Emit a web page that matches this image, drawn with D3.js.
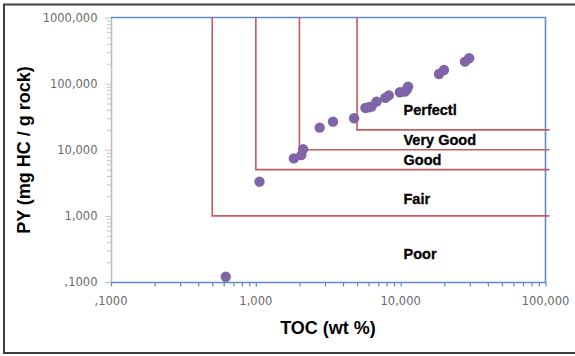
<!DOCTYPE html>
<html>
<head>
<meta charset="utf-8">
<script src="https://cdn.jsdelivr.net/npm/d3@7/dist/d3.min.js"></script>
<style>
  html, body { margin: 0; padding: 0; background: #fff; }
  svg { display: block; }
</style>
</head>
<body>
<svg id="chart" width="575" height="356"></svg>
<script>
// Sample measurements: TOC (wt %) vs. pyrolysis yield PY (mg HC / g rock)
const tocValues = [0.62, 1.06, 1.83, 2.06, 2.12, 2.76, 3.41, 4.77, 5.71, 6.03, 6.29, 6.81, 7.83, 8.28, 9.87, 10.69, 11.03, 11.26, 18.4, 19.9, 27.8, 29.7];
const pyValues  = [0.12, 3.29, 7.4, 8.3, 10.2, 21.6, 26.6, 30.0, 42.9, 44.0, 44.9, 53.4, 60.8, 66.3, 74.1, 75.7, 81.7, 90.1, 140, 161, 215, 242];

// Source-rock quality zones: corner of each boundary (TOC, PY)
const zoneToc = [0.5, 1, 2, 5];
const zonePy  = [1, 5, 10, 20];
const zoneNames = ["Perfectl", "Very Good", "Good", "Fair", "Poor"];
const zoneLabelPy = [40, 14, 7, 1.8, 0.27];

// Axis ticks and their printed labels
const xTicks = [0.1, 1, 10, 100];
const xTickLabels = [",1000", "1,000", "10,000", "100,000"];
const yTicks = [0.1, 1, 10, 100, 1000];
const yTickLabels = [",1000", "1,000", "10,000", "100,000", "1000,000"];

const svg = d3.select("#chart");
const margin = { left: 111, right: 545.5, top: 17.5, bottom: 282 };

const x = d3.scaleLog().domain([0.1, 100]).range([margin.left, margin.right]);
const y = d3.scaleLog().domain([0.1, 1000]).range([margin.bottom, margin.top]);

// Outer frame
svg.append("rect")
  .attr("x", 4).attr("y", 4.5).attr("width", 590).attr("height", 348.5)
  .attr("fill", "none").attr("stroke", "#404040").attr("stroke-width", 2);

const minorTicks = (lo, hi) => {
  const out = [];
  for (let d = lo; d < hi; d *= 10) for (let k = 1; k < 10; k++) out.push(d * k);
  out.push(hi);
  return out;
};

// Y axis (grey) with minor ticks
const yAxis = d3.axisLeft(y).tickValues(minorTicks(0.1, 1000)).tickFormat("").tickSize(5).tickSizeOuter(0);
const gy = svg.append("g").attr("transform", `translate(${margin.left},0)`).call(yAxis);
gy.selectAll("path").attr("stroke", "#bdbdbd").attr("stroke-width", 1.5);
gy.selectAll("line").attr("stroke", "#c4c4c4").attr("stroke-width", 1)
  .attr("x2", d => yTicks.includes(d) ? -6 : -4);

svg.append("g").selectAll("text").data(yTicks).join("text")
  .attr("x", 97.5).attr("y", d => y(d)).attr("dy", "0.36em")
  .attr("text-anchor", "end")
  .attr("font-family", "DejaVu Sans, Verdana, sans-serif").attr("font-size", 11.5)
  .attr("fill", "#6a6a6a")
  .text((d, i) => yTickLabels[i]);

// X axis (blue) with minor ticks
const xAxis = d3.axisBottom(x).tickValues(minorTicks(0.1, 100)).tickFormat("").tickSize(4.5).tickSizeOuter(0);
const gx = svg.append("g").attr("transform", `translate(0,${margin.bottom})`).call(xAxis);
gx.selectAll("path").attr("stroke", "#5b8cc4").attr("stroke-width", 1.6);
gx.selectAll("line").attr("stroke", "#5b8cc4").attr("stroke-width", 1.2);

svg.append("g").selectAll("text").data(xTicks).join("text")
  .attr("x", d => x(d)).attr("y", 301).attr("dy", "0.36em")
  .attr("text-anchor", "middle")
  .attr("font-family", "DejaVu Sans, Verdana, sans-serif").attr("font-size", 11.5)
  .attr("fill", "#6a6a6a")
  .text((d, i) => xTickLabels[i]);

// Top and right border of plot area
svg.append("path")
  .attr("d", `M${margin.left},${y(1000)}H${x(100)}V${margin.bottom}`)
  .attr("fill", "none").attr("stroke", "#5b8cc4").attr("stroke-width", 1.6);

// Zone boundaries: vertical from top, then horizontal to the right edge
const zoneLine = svg.append("g");
zoneToc.forEach((t, i) => {
  zoneLine.append("path")
    .attr("d", `M${x(t)},${y(1000)}V${y(zonePy[i])}H${x(100) + 4}`)
    .attr("fill", "none").attr("stroke", "#c9595a").attr("stroke-width", 1.6);
});

// Zone names
svg.append("g").selectAll("text").data(zoneNames).join("text")
  .attr("x", 403.5).attr("y", (d, i) => y(zoneLabelPy[i])).attr("dy", "0.36em")
  .attr("font-family", "Liberation Sans, Arial, sans-serif").attr("font-weight", "bold")
  .attr("font-size", 14.5).attr("fill", "#000")
  .attr("stroke", "#000").attr("stroke-width", 0.3)
  .text(d => d);

// Sample points
svg.append("g").selectAll("circle").data(tocValues).join("circle")
  .attr("cx", d => x(d)).attr("cy", (d, i) => y(pyValues[i])).attr("r", 5.2)
  .attr("fill", "#8064a8");

// Axis titles
svg.append("text")
  .attr("x", 328).attr("y", 328).attr("dy", "0.36em").attr("text-anchor", "middle")
  .attr("font-family", "Liberation Sans, Arial, sans-serif").attr("font-weight", "bold")
  .attr("font-size", 18).attr("fill", "#000")
  .text("TOC (wt %)");

svg.append("text")
  .attr("transform", "translate(24,150) rotate(-90)")
  .attr("dy", "0.36em").attr("text-anchor", "middle")
  .attr("font-family", "Liberation Sans, Arial, sans-serif").attr("font-weight", "bold")
  .attr("font-size", 18).attr("fill", "#000")
  .text("PY (mg HC / g rock)");
</script>
</body>
</html>
